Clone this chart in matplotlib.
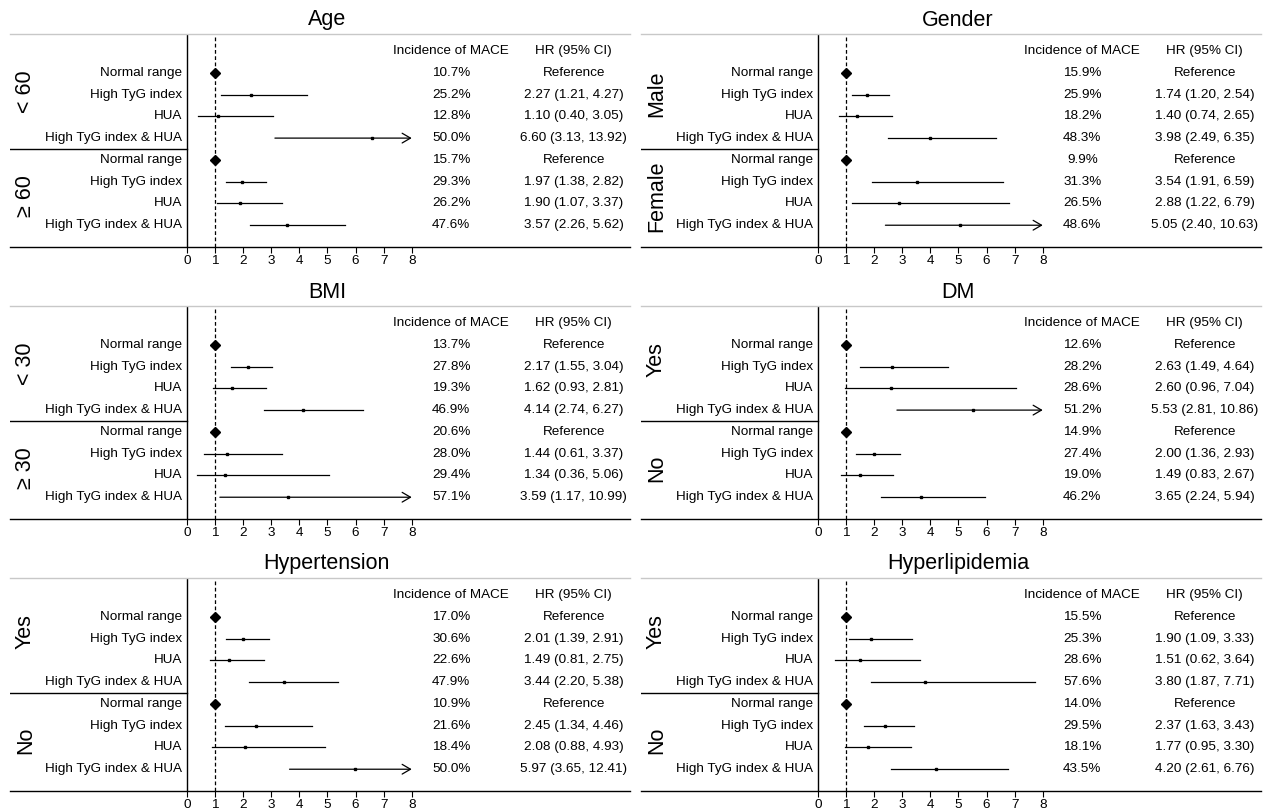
import numpy as np
import matplotlib
matplotlib.use("Agg")
import matplotlib.pyplot as plt

plt.rcParams['font.family'] = ['Liberation Sans', 'DejaVu Sans']

# 数据
titles = ["Age", "Gender", "BMI", "DM", "Hypertension", "Hyperlipidemia"]
groups = [["< 60", "≥ 60"], ["Male", "Female"], ["< 30", "≥ 30"],
          ["Yes", "No"], ["Yes", "No"], ["Yes", "No"]]
row_labels = ["Normal range", "High TyG index", "HUA", "High TyG index & HUA"]

incidence = [
    [10.7, 25.2, 12.8, 50.0, 15.7, 29.3, 26.2, 47.6],
    [15.9, 25.9, 18.2, 48.3, 9.9, 31.3, 26.5, 48.6],
    [13.7, 27.8, 19.3, 46.9, 20.6, 28.0, 29.4, 57.1],
    [12.6, 28.2, 28.6, 51.2, 14.9, 27.4, 19.0, 46.2],
    [17.0, 30.6, 22.6, 47.9, 10.9, 21.6, 18.4, 50.0],
    [15.5, 25.3, 28.6, 57.6, 14.0, 29.5, 18.1, 43.5],
]
hr = [
    [1.00, 2.27, 1.10, 6.60, 1.00, 1.97, 1.90, 3.57],
    [1.00, 1.74, 1.40, 3.98, 1.00, 3.54, 2.88, 5.05],
    [1.00, 2.17, 1.62, 4.14, 1.00, 1.44, 1.34, 3.59],
    [1.00, 2.63, 2.60, 5.53, 1.00, 2.00, 1.49, 3.65],
    [1.00, 2.01, 1.49, 3.44, 1.00, 2.45, 2.08, 5.97],
    [1.00, 1.90, 1.51, 3.80, 1.00, 2.37, 1.77, 4.20],
]
hr_lo = [
    [None, 1.21, 0.40, 3.13, None, 1.38, 1.07, 2.26],
    [None, 1.20, 0.74, 2.49, None, 1.91, 1.22, 2.40],
    [None, 1.55, 0.93, 2.74, None, 0.61, 0.36, 1.17],
    [None, 1.49, 0.96, 2.81, None, 1.36, 0.83, 2.24],
    [None, 1.39, 0.81, 2.20, None, 1.34, 0.88, 3.65],
    [None, 1.09, 0.62, 1.87, None, 1.63, 0.95, 2.61],
]
hr_hi = [
    [None, 4.27, 3.05, 13.92, None, 2.82, 3.37, 5.62],
    [None, 2.54, 2.65, 6.35, None, 6.59, 6.79, 10.63],
    [None, 3.04, 2.81, 6.27, None, 3.37, 5.06, 10.99],
    [None, 4.64, 7.04, 10.86, None, 2.93, 2.67, 5.94],
    [None, 2.91, 2.75, 5.38, None, 4.46, 4.93, 12.41],
    [None, 3.33, 3.64, 7.71, None, 3.43, 3.30, 6.76],
]

# 布局（像素）
W, H = 1263, 810
col_left = [10, 641]
row_top = [34, 306, 578]
pw, ph = 620, 213
x_max = 8
fs = 9.7

fig = plt.figure(figsize=(W / 100, H / 100), dpi=100)

for k in range(6):
    r, c = divmod(k, 2)
    ax = fig.add_axes([col_left[c] / W, 1 - (row_top[r] + ph) / H, pw / W, ph / H])
    ax.set_xlim(-6.3, 15.77)
    ax.set_ylim(9.0, -0.78)

    for s in ['left', 'right']:
        ax.spines[s].set_visible(False)
    ax.spines['top'].set_color('#c8c8c8')
    ax.spines['top'].set_linewidth(1.0)
    ax.spines['bottom'].set_color('black')
    ax.spines['bottom'].set_linewidth(1.0)
    ax.set_yticks([])
    ax.set_xticks(range(x_max + 1))
    ax.tick_params(axis='x', direction='out', length=4, width=0.8, labelsize=fs, pad=1.5)

    ax.axvline(0, color='black', lw=1.0)
    ax.axvline(1, color='black', lw=0.9, ls=(0, (3, 2)))
    ax.plot([-6.3, 0], [4.5, 4.5], color='black', lw=1.0)

    # 标题和表头
    ax.text(0.511, 1 + 14 / ph, titles[k], transform=ax.transAxes,
            ha='center', va='center', fontsize=15.5)
    ax.text(9.41, 0, "Incidence of MACE", ha='center', va='center', fontsize=fs)
    ax.text(13.77, 0, "HR (95% CI)", ha='center', va='center', fontsize=fs)

    # 分组标签
    ax.text(-5.75, 0.9, groups[k][0], rotation=90, ha='center', va='top', fontsize=15.5)
    ax.text(-5.75, 6.65, groups[k][1], rotation=90, ha='center', va='center', fontsize=15.5)

    for i in range(8):
        y = i + 1
        ax.text(-0.17, y, row_labels[i % 4], ha='right', va='center', fontsize=fs)
        ax.text(9.41, y, f"{incidence[k][i]:.1f}%", ha='center', va='center', fontsize=fs)
        lo, hi = hr_lo[k][i], hr_hi[k][i]
        if lo is None:
            ax.plot(hr[k][i], y, marker='D', ms=5.5, color='black', zorder=4)
            ax.text(13.77, y, "Reference", ha='center', va='center', fontsize=fs)
            continue
        ax.text(13.77, y, f"{hr[k][i]:.2f} ({lo:.2f}, {hi:.2f})",
                ha='center', va='center', fontsize=fs)
        if hi > x_max:
            ax.annotate('', xy=(x_max, y), xytext=(lo, y),
                        arrowprops=dict(arrowstyle='->,head_length=0.6,head_width=0.35',
                                        lw=0.9, color='black', shrinkA=0, shrinkB=0,
                                        mutation_scale=10))
        else:
            ax.plot([lo, hi], [y, y], color='black', lw=0.9)
        ax.plot(hr[k][i], y, marker='s', ms=1.8, color='black', zorder=4)

fig.savefig("out.png", dpi=100)
